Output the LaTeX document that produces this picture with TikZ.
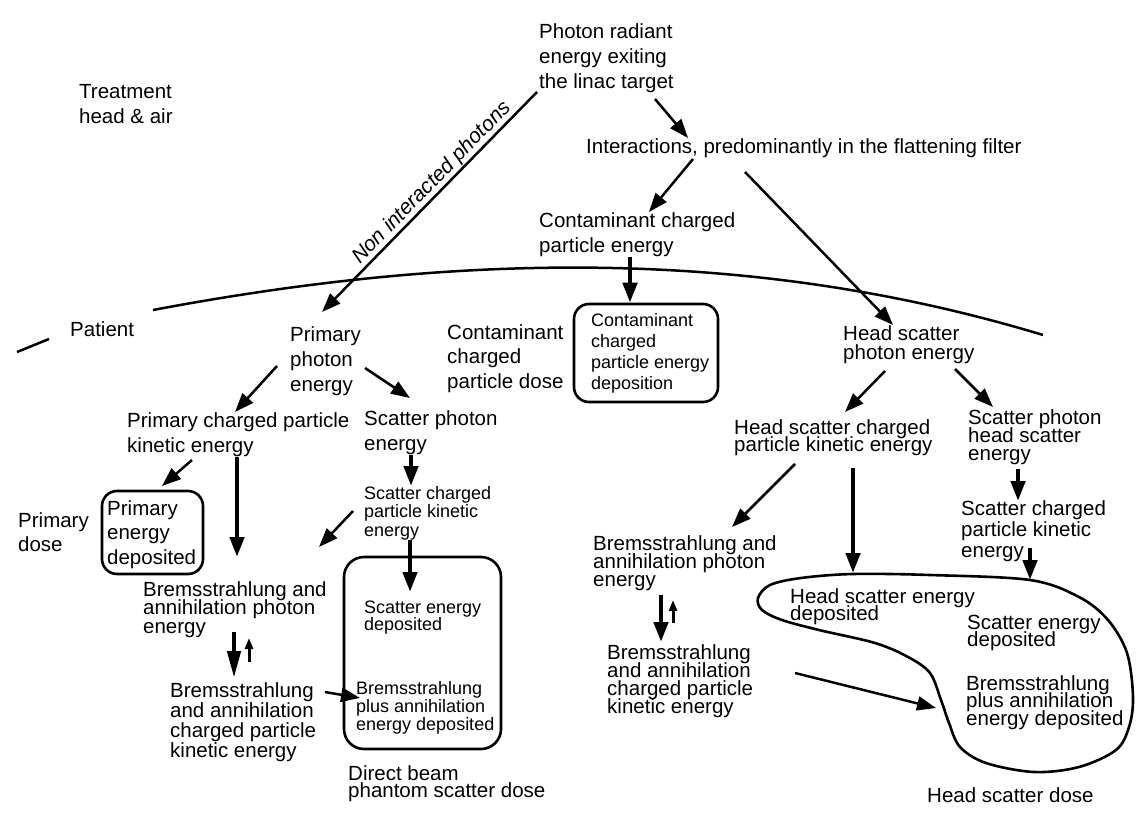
\documentclass[tikz,border=0pt]{standalone}
\usepackage{fontspec}
\setmainfont{Liberation Sans}
\usetikzlibrary{arrows.meta}
\begin{document}
\lineskiplimit=-40pt
\begin{tikzpicture}[
				x=1pt, y=-1pt, line join=round,
				lbl/.style={inner sep=0pt, anchor=north west, align=left, font=\fontsize{20.5}{#1}\selectfont},
				lbl/.default=24.5,
				sml/.style={inner sep=0pt, anchor=north west, align=left, font=\fontsize{18}{#1}\selectfont},
				sml/.default=19,
				arr/.style={-{Triangle[length=19pt,width=14pt]}, line width=2.5pt},
				varr/.style={-{Triangle[length=20pt,width=14pt]}, line width=4.5pt},
				longarr/.style={-{Triangle[length=27pt,width=13pt]}, line width=4.5pt},
				uarr/.style={-{Triangle[length=11pt,width=8pt]}, line width=3pt},
				box/.style={draw, line width=2.6pt, rounded corners=#1, inner sep=0pt},
				box/.default=15pt
				]
				\useasboundingbox (0,0) rectangle (1139,818);
				\node[lbl=25] (src) at (539,23) {Photon radiant\\energy exiting\\the linac target};
				\node[lbl=25] (treat) at (79,84) {Treatment\\head \& air};
				\node[lbl] (inter) at (586,138) {Interactions, predominantly in the flattening filter};
				\node[lbl=25.5] (cce) at (539,212) {Contaminant charged\\particle energy};
				\node[lbl] (patient) at (70,321) {Patient};
				\node[lbl=25] (pph) at (290,326) {Primary\\photon\\energy};
				\node[lbl] (ccd) at (447,324) {Contaminant\\charged\\particle dose};
				\node[lbl=19] (hsp) at (843,325) {Head scatter\\photon energy};
				\node[lbl=25.5] (pcke) at (127,412) {Primary charged particle\\kinetic energy};
				\node[lbl=25] (sph) at (364,410) {Scatter photon\\energy};
				\node[lbl=17.5] (hsc) at (734,419) {Head scatter charged\\particle kinetic energy};
				\node[lbl=18] (sphs) at (968,409) {Scatter photon\\head scatter\\energy};
				\node[lbl] (pdose) at (18,512) {Primary\\dose};
				\node[lbl] (pdep) at (107,500) {Primary\\energy\\deposited};
				\node[lbl=21] (rsc) at (961,500) {Scatter charged\\particle kinetic\\energy};
				\node[lbl=18] (rbp) at (593,535) {Bremsstrahlung and\\annihilation photon\\energy};
				\node[lbl=18.5] (lbp) at (143,581) {Bremsstrahlung and\\annihilation photon\\energy};
				\node[lbl=20.3] (lbc) at (170,682) {Bremsstrahlung\\and annihilation\\charged particle\\kinetic energy};
				\node[lbl=17.5] (dbd) at (348,765) {Direct beam\\phantom scatter dose};
				\node[lbl=18] (rbc) at (607,644) {Bremsstrahlung\\and annihilation\\charged particle\\kinetic energy};
				\node[lbl=17] (hsd) at (790,588) {Head scatter energy\\deposited};
				\node[lbl=16.5] (rsd) at (967,615) {Scatter energy\\deposited};
				\node[lbl=17.5] (rbd) at (966,675) {Bremsstrahlung\\plus annihilation\\energy deposited};
				\node[lbl] (hsdose) at (927,787) {Head scatter dose};
				\node[sml=21] (cdep) at (591,313) {Contaminant\\charged\\particle energy\\deposition};
				\node[sml=18.5] (ssc) at (364,486) {Scatter charged\\particle kinetic\\energy};
				\node[sml=16.5] (sdep) at (364,601) {Scatter energy\\deposited};
				\node[sml=18] (pbd) at (356,681) {Bremsstrahlung\\plus annihilation\\energy deposited};
				\node[rotate=45.7, inner sep=0pt, font=\itshape\fontsize{21}{24}\selectfont] (nip) at (432,183) {Non interacted photons};
				\node[box, minimum width=101pt, minimum height=83pt] (pbox) at (152.5,532.5) {};
				\node[box, minimum width=144pt, minimum height=98pt] (cbox) at (646,353) {};
				\node[box=20pt, minimum width=157pt, minimum height=192pt] (phbox) at (422.5,653) {};
				\draw[line width=2.5pt] (153,310) .. controls (450,254) and (746,245) .. (1043,335);
				\draw[line width=2.5pt] (17,352) -- (49,339);
				\draw[line width=2.6pt] plot[smooth cycle, tension=0.55] coordinates {(758,598) (770,585) (801,578) (853,574) (930,575) (1030,580) (1079,597) (1108,620) (1127,653) (1133,697) (1129,727) (1116,750) (1079,767) (1034,772) (986,763) (960,747) (949,723) (941,700) (930,673) (908,657) (875,643) (819,630) (782,620) (762,610)};
				\coordinate (blobtop) at (853,573);
				\coordinate (blobrsc) at (1030,580);
				\coordinate (blobleft) at (936,708);
				\draw[arr] (655,99) -- (inter.north -| 688,0);
				\draw[arr] (693,159) -- (cce.north -| 649,0);
				\draw[arr] (745,172) -- (hsp.north -| 893,0);
				\draw[arr] (537,92) -- (322,312);
				\draw[varr] (cce.south -| 630,0) -- (cbox.north -| 630,0);
				\draw[arr] (277,366) -- (pcke.north -| 235,0);
				\draw[arr] (365,368) -- (410,398);
				\draw[arr] (192,460) -- (162,486);
				\draw[varr] (237,457) -- (237,557);
				\draw[varr] (sph.south -| 411,0) -- (ssc.north -| 411,0);
				\draw[arr] (353,511) -- (319,547);
				\draw[varr] (410,540) -- (410,592);
				\draw[longarr] (234,632) -- (234,678);
				\draw[uarr] (249,662) -- (249,638);
				\draw[arr] (325,692) -- (360,698);
				\draw[arr] (885,371) -- (845,412);
				\draw[arr] (955,369) -- (993,407);
				\draw[arr] (795,464) -- (732,527);
				\draw[varr] (853,468) -- (blobtop);
				\draw[varr] (1018,469) -- (1018,501);
				\draw[varr] (1030,548) -- (blobrsc);
				\draw[varr] (661,595) -- (661,642);
				\draw[uarr] (673,623) -- (673,600);
				\draw[arr] (795,673) -- (blobleft);
\end{tikzpicture}
\end{document}
